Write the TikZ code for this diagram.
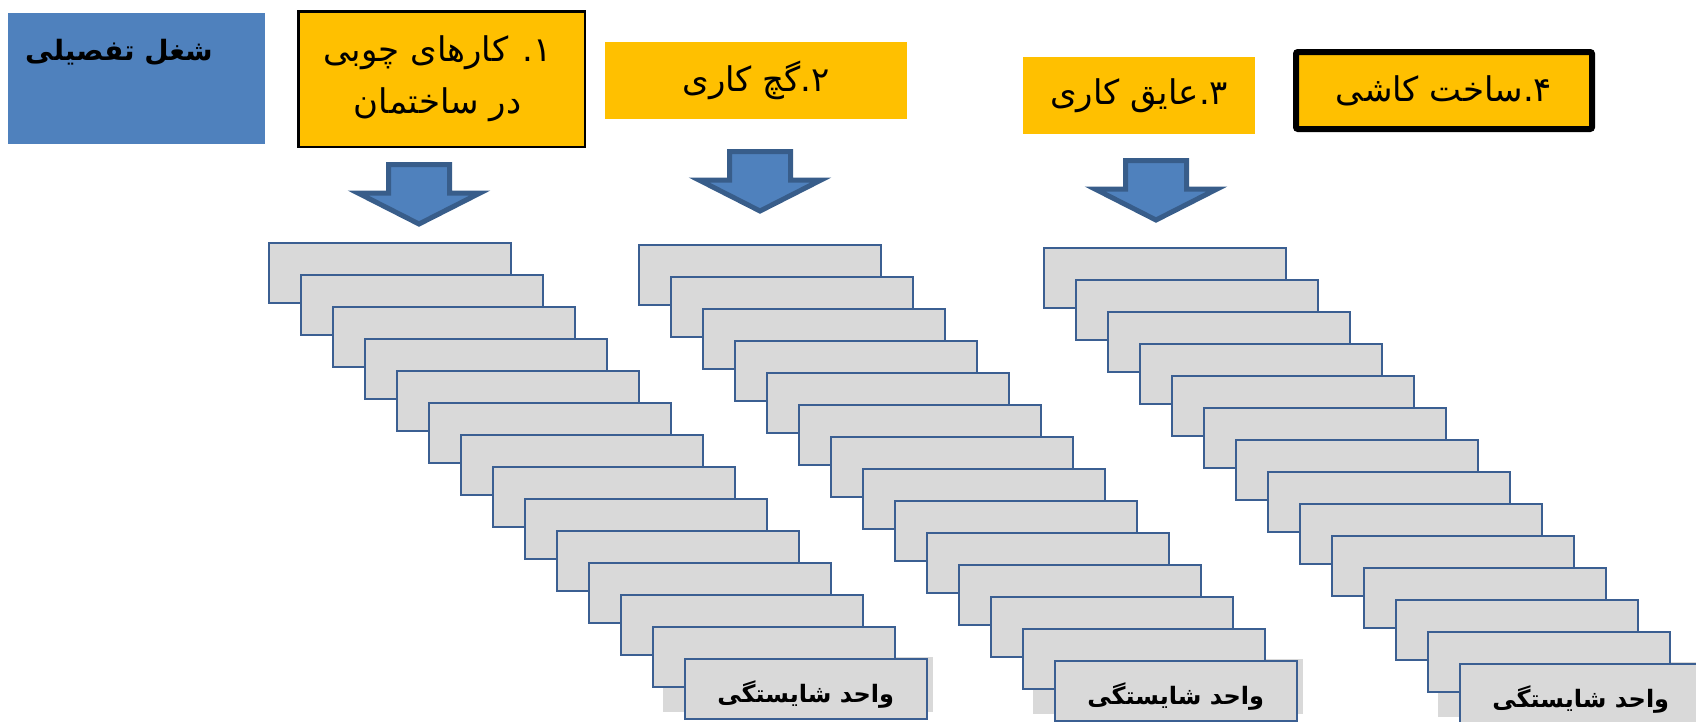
\documentclass[tikz,border=0pt]{standalone}
\usepackage{fontspec}
\newfontfamily\arabicfont[Script=Arabic]{DejaVu Sans}
\TeXXeTstate=1

\definecolor{hdrblue}{HTML}{4F81BD}
\definecolor{arrowedge}{HTML}{385D8A}
\definecolor{amber}{HTML}{FFC000}
\definecolor{cardgray}{HTML}{D9D9D9}
\definecolor{cardedge}{HTML}{3B5F92}

\tikzset{
  card/.style={draw=cardedge, line width=1.5, fill=cardgray, minimum width=242,
    minimum height=60, inner sep=0, anchor=north west},
  cardlabel/.style={font=\arabicfont\bfseries\fontsize{24}{28}\selectfont},
  headbox/.style={fill=amber, inner sep=0, anchor=north west},
  headtext/.style={font=\arabicfont\fontsize{34}{52}\selectfont, align=center},
  downarrow/.pic={
    \draw[line width=5, draw=arrowedge, fill=hdrblue, line join=miter]
      (-30.5,2.5) -- (30.5,2.5) -- (30.5,31) -- (61,31) -- (0,62)
      -- (-61,31) -- (-30.5,31) -- cycle;
  }
}

\begin{document}
\begin{tikzpicture}[x=1pt, y=-1pt]
\useasboundingbox (0,0) rectangle (1696,721);
\clip (0,0) rectangle (1696,721);

% title block
\node[fill=hdrblue, inner sep=0, minimum width=257, minimum height=131,
  anchor=north west] (job) at (8,13) {};
\node[font=\arabicfont\bfseries\fontsize{28}{32}\selectfont] (jobtitle) at (119,52)
  {\beginR شغل تفصیلی\endR};

% occupation headers
\node[headbox, draw=black, line width=2.5, minimum width=286.5, minimum height=135.5]
  (unit1) at (297,10) {};
\node[headtext] (unit1text) at ([xshift=-4]unit1.center)
  {\beginR ۱. کارهای چوبی\endR\\\beginR در ساختمان\endR};

\node[headbox, minimum width=302, minimum height=77] (unit2) at (605,42) {};
\node[headtext] at (unit2.center) {\beginR ۲.گچ کاری\endR};

\node[headbox, minimum width=232, minimum height=77] (unit3) at (1023,57) {};
\node[headtext] at (unit3.center) {\beginR ۳.عایق کاری\endR};

\node[headbox, draw=black, line width=6, rounded corners=2,
  minimum width=296, minimum height=77] (unit4) at (1293,49) {};
\node[headtext] at (unit4.center) {\beginR ۴.ساخت کاشی\endR};

% block arrows
\pic at (419,162) {downarrow};
\pic at (760,149) {downarrow};
\pic at (1156,158) {downarrow};

% stacks of competency cards
\foreach \s/\x/\y in {1/268/242, 2/638/244, 3/1043/247} {
  \fill[cardgray] (\x+13*32-21, \y+13*32-1) rectangle ++(270,55);
  \foreach \i in {0,...,12} {
    \node[card] (c\s-\i) at (\x+\i*32, \y+\i*32) {};
  }
  \node[card] (c\s-13) at (\x+13*32, \y+13*32) {};
  \node[cardlabel] (lab\s) at ([yshift=-6]c\s-13.center) {\beginR واحد شایستگی\endR};
}
\end{tikzpicture}
\end{document}
